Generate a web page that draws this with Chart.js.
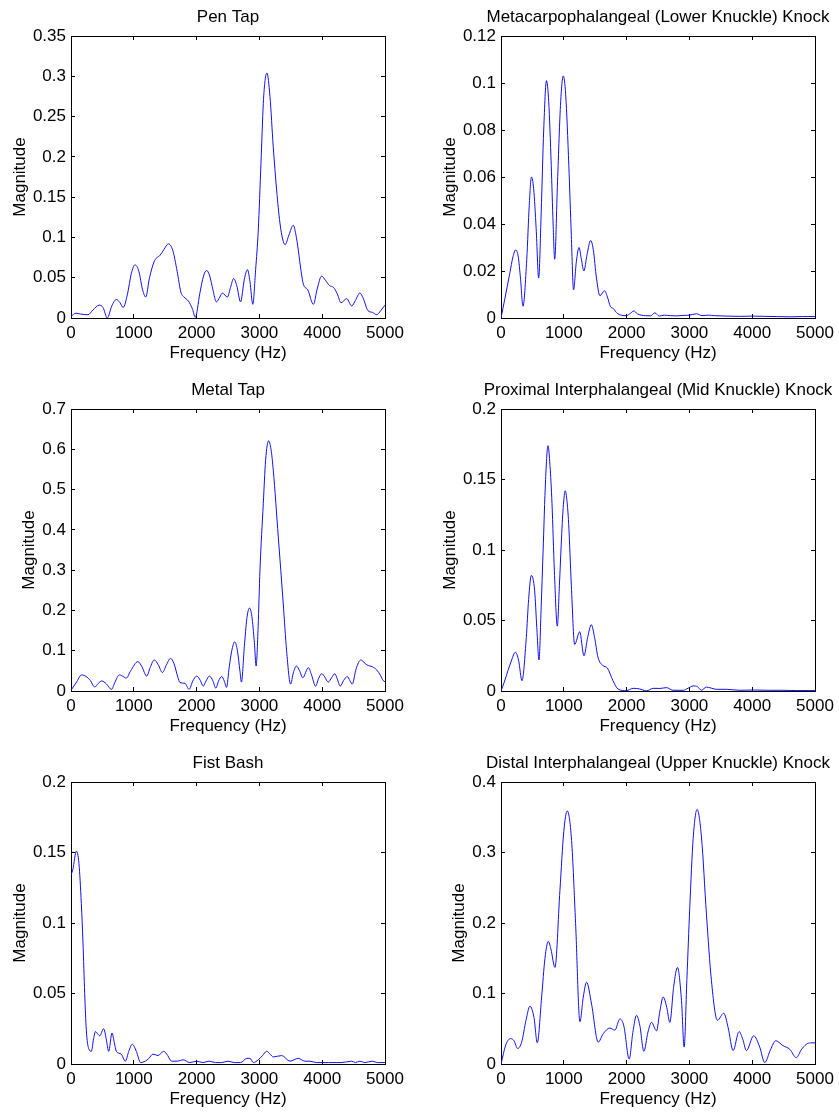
<!DOCTYPE html>
<html>
<head>
<meta charset="utf-8">
<title>Tap and knock spectra</title>
<script src="https://cdn.jsdelivr.net/npm/chart.js@4.4.1/dist/chart.umd.min.js"></script>
<style>
  html, body { margin: 0; padding: 0; background: #fff; }
  body { position: relative; width: 839px; height: 1113px; overflow: hidden; }
  canvas { position: absolute; }
</style>
</head>
<body>
<!-- each canvas is centred on its plot box so the title centres over the axes -->
<canvas id="penTap" width="456" height="370" style="left:0;top:0"></canvas>
<canvas id="lowerKnuckle" width="476" height="370" style="left:420px;top:0"></canvas>
<canvas id="metalTap" width="456" height="370" style="left:0;top:373px"></canvas>
<canvas id="midKnuckle" width="476" height="370" style="left:420px;top:373px"></canvas>
<canvas id="fistBash" width="456" height="370" style="left:0;top:746px"></canvas>
<canvas id="upperKnuckle" width="476" height="370" style="left:420px;top:746px"></canvas>

<script>
"use strict";

// ---- data ----
const freqTicks = [0, 1000, 2000, 3000, 4000, 5000];

// Pen Tap
const penTapHz = [0, 80, 150, 270, 350, 450, 510, 578, 650, 722, 780, 830, 900, 960, 1020, 1080, 1140, 1190, 1250, 1330, 1420, 1480, 1550, 1620, 1690, 1750, 1800, 1870, 1930, 1980, 2050, 2110, 2160, 2210, 2260, 2315, 2370, 2410, 2490, 2540, 2590, 2640, 2700, 2760, 2810, 2850, 2895, 2940, 2982, 3025, 3062, 3090, 3120, 3168, 3220, 3274, 3327, 3370, 3410, 3470, 3540, 3580, 3620, 3660, 3700, 3770, 3860, 3920, 3990, 4050, 4120, 4180, 4240, 4300, 4390, 4470, 4530, 4600, 4650, 4730, 4800, 4870, 4930, 5000];
const penTapMag = [0.002, 0.006, 0.005, 0.004, 0.01, 0.016, 0.013, 0.0, 0.015, 0.023, 0.019, 0.013, 0.03, 0.055, 0.066, 0.058, 0.035, 0.026, 0.05, 0.071, 0.078, 0.085, 0.092, 0.084, 0.058, 0.032, 0.026, 0.021, 0.012, 0.001, 0.03, 0.052, 0.059, 0.052, 0.035, 0.02, 0.026, 0.031, 0.026, 0.038, 0.049, 0.04, 0.02, 0.048, 0.06, 0.045, 0.017, 0.06, 0.109, 0.192, 0.266, 0.295, 0.304, 0.275, 0.213, 0.159, 0.118, 0.098, 0.091, 0.103, 0.115, 0.104, 0.084, 0.06, 0.042, 0.035, 0.017, 0.036, 0.052, 0.047, 0.04, 0.038, 0.03, 0.019, 0.024, 0.015, 0.022, 0.031, 0.025, 0.009, 0.007, 0.004, 0.009, 0.016];
const penTapTicks = [0, 0.05, 0.1, 0.15, 0.2, 0.25, 0.3, 0.35];

// Metacarpophalangeal (Lower Knuckle) Knock
const lowerHz = [0, 60, 140, 190, 235, 275, 310, 350, 410, 450, 485, 520, 560, 600, 640, 680, 724, 760, 800, 830, 855, 900, 950, 992, 1030, 1080, 1120, 1155, 1200, 1242, 1280, 1320, 1370, 1428, 1470, 1520, 1575, 1650, 1700, 1740, 1790, 1850, 1995, 2060, 2117, 2170, 2234, 2300, 2380, 2450, 2520, 2600, 2700, 2800, 2900, 3000, 3112, 3200, 3300, 3400, 3600, 3800, 4000, 4200, 4400, 4600, 4800, 5000];
const lowerMag = [0, 0.008, 0.019, 0.026, 0.029, 0.026, 0.017, 0.005, 0.025, 0.048, 0.06, 0.055, 0.038, 0.017, 0.045, 0.08, 0.101, 0.092, 0.065, 0.04, 0.025, 0.058, 0.092, 0.103, 0.095, 0.065, 0.035, 0.012, 0.024, 0.03, 0.025, 0.02, 0.027, 0.033, 0.029, 0.017, 0.0095, 0.0116, 0.0085, 0.005, 0.004, 0.002, 0.001, 0.002, 0.003, 0.0018, 0.0012, 0.001, 0.0009, 0.0022, 0.0008, 0.0012, 0.001, 0.0009, 0.0011, 0.0012, 0.0018, 0.001, 0.0012, 0.001, 0.0008, 0.0007, 0.0008, 0.0007, 0.0006, 0.0005, 0.0006, 0.0006];
const lowerTicks = [0, 0.02, 0.04, 0.06, 0.08, 0.1, 0.12];

// Metal Tap
const metalHz = [0, 80, 170, 240, 300, 380, 430, 490, 560, 645, 700, 770, 830, 880, 950, 1065, 1130, 1205, 1260, 1325, 1390, 1455, 1520, 1585, 1640, 1700, 1735, 1815, 1880, 1940, 2003, 2060, 2105, 2150, 2205, 2260, 2306, 2350, 2400, 2440, 2476, 2520, 2560, 2608, 2650, 2690, 2714, 2760, 2800, 2842, 2880, 2920, 2948, 2980, 3009, 3062, 3099, 3147, 3185, 3221, 3301, 3380, 3433, 3497, 3540, 3590, 3640, 3690, 3780, 3830, 3895, 3940, 3993, 4040, 4095, 4150, 4200, 4240, 4288, 4340, 4400, 4440, 4478, 4540, 4615, 4660, 4710, 4800, 4870, 4930, 4970, 5000];
const metalMag = [0.002, 0.02, 0.04, 0.036, 0.028, 0.01, 0.018, 0.025, 0.018, 0.004, 0.022, 0.04, 0.036, 0.032, 0.05, 0.073, 0.06, 0.037, 0.058, 0.077, 0.065, 0.046, 0.065, 0.081, 0.068, 0.035, 0.021, 0.019, 0.004, 0.025, 0.037, 0.026, 0.012, 0.025, 0.037, 0.025, 0.007, 0.025, 0.036, 0.025, 0.009, 0.06, 0.1, 0.122, 0.1, 0.05, 0.022, 0.11, 0.18, 0.206, 0.185, 0.12, 0.062, 0.16, 0.30, 0.465, 0.573, 0.621, 0.6, 0.548, 0.382, 0.216, 0.1, 0.017, 0.045, 0.062, 0.05, 0.033, 0.058, 0.04, 0.012, 0.03, 0.043, 0.035, 0.022, 0.033, 0.043, 0.03, 0.012, 0.026, 0.036, 0.026, 0.017, 0.055, 0.077, 0.072, 0.065, 0.06, 0.052, 0.038, 0.026, 0.023];
const metalTicks = [0, 0.1, 0.2, 0.3, 0.4, 0.5, 0.6, 0.7];

// Proximal Interphalangeal (Mid Knuckle) Knock
const midHz = [0, 50, 111, 170, 228, 281, 334, 403, 440, 483, 536, 570, 605, 640, 669, 710, 748, 780, 812, 850, 897, 930, 960, 990, 1024, 1050, 1077, 1120, 1173, 1253, 1321, 1380, 1438, 1490, 1544, 1624, 1692, 1783, 1863, 1995, 2105, 2200, 2317, 2423, 2530, 2635, 2741, 2900, 2980, 3059, 3130, 3192, 3271, 3350, 3430, 3589, 3801, 4014, 4279, 4491, 4700, 5000];
const midMag = [0, 0.006, 0.0145, 0.022, 0.0275, 0.0216, 0.0073, 0.038, 0.065, 0.082, 0.071, 0.045, 0.022, 0.06, 0.0975, 0.15, 0.174, 0.16, 0.133, 0.085, 0.046, 0.075, 0.105, 0.13, 0.142, 0.135, 0.119, 0.075, 0.033, 0.042, 0.025, 0.038, 0.047, 0.038, 0.024, 0.018, 0.0164, 0.0073, 0.0014, 0.0002, 0.0019, 0.0015, 0.0001, 0.0019, 0.0018, 0.0024, 0.0005, 0.0005, 0.002, 0.0036, 0.003, 0.0005, 0.0028, 0.002, 0.0012, 0.0012, 0.0005, 0.0007, 0.0005, 0.0005, 0.0003, 0.0003];
const midTicks = [0, 0.05, 0.1, 0.15, 0.2];

// Fist Bash
const fistHz = [0, 30, 85, 127, 164, 191, 218, 244, 281, 324, 360, 390, 430, 457, 520, 560, 600, 653, 690, 722, 800, 865, 920, 975, 1040, 1109, 1183, 1240, 1305, 1385, 1476, 1540, 1600, 1700, 1783, 1890, 2000, 2100, 2200, 2300, 2400, 2500, 2600, 2700, 2800, 2850, 2903, 2982, 3050, 3115, 3170, 3221, 3354, 3487, 3619, 3725, 3805, 3911, 4100, 4300, 4468, 4530, 4600, 4680, 4800, 4880, 5000];
const fistMag = [0.134, 0.138, 0.151, 0.142, 0.114, 0.086, 0.05, 0.024, 0.011, 0.009, 0.018, 0.023, 0.021, 0.02, 0.025, 0.018, 0.009, 0.022, 0.015, 0.009, 0.007, 0.002, 0.009, 0.014, 0.009, 0.001, 0.002, 0.004, 0.007, 0.006, 0.009, 0.006, 0.002, 0.002, 0.003, 0.001, 0.002, 0.001, 0.002, 0.001, 0.001, 0.002, 0.001, 0.001, 0.004, 0.004, 0.001, 0.003, 0.006, 0.009, 0.007, 0.005, 0.006, 0.002, 0.004, 0.002, 0.002, 0.001, 0.001, 0.001, 0.002, 0.001, 0.002, 0.001, 0.002, 0.001, 0.001];
const fistTicks = [0, 0.05, 0.1, 0.15, 0.2];

// Distal Interphalangeal (Upper Knuckle) Knock
const upperHz = [0, 80, 154, 207, 265, 329, 398, 461, 525, 578, 647, 700, 753, 795, 859, 938, 1000, 1055, 1124, 1188, 1257, 1310, 1363, 1442, 1548, 1628, 1734, 1813, 1893, 1956, 2041, 2100, 2158, 2210, 2275, 2340, 2397, 2476, 2530, 2582, 2640, 2688, 2750, 2810, 2874, 2916, 2960, 3006, 3060, 3123, 3192, 3271, 3351, 3446, 3547, 3616, 3696, 3791, 3850, 3908, 4024, 4120, 4199, 4290, 4374, 4491, 4597, 4703, 4780, 4862, 4930, 5000];
const upperMag = [0, 0.028, 0.036, 0.033, 0.022, 0.031, 0.062, 0.082, 0.066, 0.03, 0.095, 0.15, 0.174, 0.163, 0.137, 0.246, 0.33, 0.359, 0.317, 0.199, 0.06, 0.095, 0.116, 0.085, 0.031, 0.043, 0.051, 0.048, 0.064, 0.054, 0.007, 0.045, 0.069, 0.055, 0.018, 0.045, 0.059, 0.047, 0.075, 0.095, 0.08, 0.059, 0.11, 0.137, 0.09, 0.024, 0.12, 0.222, 0.32, 0.361, 0.322, 0.213, 0.118, 0.062, 0.072, 0.052, 0.019, 0.046, 0.035, 0.019, 0.04, 0.024, 0.002, 0.02, 0.033, 0.026, 0.021, 0.009, 0.02, 0.028, 0.03, 0.03];
const upperTicks = [0, 0.1, 0.2, 0.3, 0.4];

const panels = [
  { id: "penTap", title: "Pen Tap", hz: penTapHz, mag: penTapMag, yTicks: penTapTicks },
  { id: "lowerKnuckle", title: "Metacarpophalangeal (Lower Knuckle) Knock", hz: lowerHz, mag: lowerMag, yTicks: lowerTicks },
  { id: "metalTap", title: "Metal Tap", hz: metalHz, mag: metalMag, yTicks: metalTicks },
  { id: "midKnuckle", title: "Proximal Interphalangeal (Mid Knuckle) Knock", hz: midHz, mag: midMag, yTicks: midTicks },
  { id: "fistBash", title: "Fist Bash", hz: fistHz, mag: fistMag, yTicks: fistTicks },
  { id: "upperKnuckle", title: "Distal Interphalangeal (Upper Knuckle) Knock", hz: upperHz, mag: upperMag, yTicks: upperTicks }
];

// ---- look ----
const FONT = '"Liberation Sans", Arial, Helvetica, sans-serif';
const FONT_SIZE = 17;
Chart.defaults.font.family = FONT;
Chart.defaults.font.size = FONT_SIZE;
Chart.defaults.color = "#000";

// used to place "Magnitude" at a fixed gap from the widest tick label, like matlab does
const measureCtx = document.createElement("canvas").getContext("2d");
measureCtx.font = FONT_SIZE + "px " + FONT;

function setTicks(values) {
  return function (scale) {
    scale.ticks = values.map(v => ({ value: v }));
  };
}

function drawPanel(p) {
  const canvas = document.getElementById(p.id);
  // canvas is symmetric round the plot box: same margin left and right
  const side = (canvas.width - 314) / 2;
  const widest = Math.max(...p.yTicks.map(v => measureCtx.measureText(String(v)).width));
  const labelCentre = side - (18 + widest);
  const yMax = p.yTicks[p.yTicks.length - 1];

  // inward tick marks only, no grid on the plot
  const boxGrid = { drawOnChartArea: false, drawTicks: true, tickLength: -4, color: "#000" };
  const boxBorder = { display: true, color: "#000", width: 1 };

  new Chart(canvas, {
    type: "line",
    data: {
      datasets: [{
        data: p.hz.map((f, i) => ({ x: f, y: p.mag[i] })),
        borderColor: "#1010f0",
        borderWidth: 1,
        pointRadius: 0,
        fill: false,
        cubicInterpolationMode: "monotone"
      }]
    },
    options: {
      responsive: false,
      animation: false,
      devicePixelRatio: 1,
      layout: { padding: 0 },
      plugins: {
        legend: { display: false },
        tooltip: { enabled: false },
        title: {
          display: true,
          text: p.title,
          color: "#000",
          font: { size: FONT_SIZE, weight: "normal" },
          padding: { top: 7, bottom: 8.6 }
        }
      },
      scales: {
        x: {
          type: "linear", position: "bottom", min: 0, max: 5000,
          afterBuildTicks: setTicks(freqTicks),
          ticks: { padding: 9, maxRotation: 0, autoSkip: false, callback: v => String(v) },
          grid: boxGrid, border: boxBorder,
          title: { display: true, text: "Frequency (Hz)", padding: { top: 0, bottom: 6 } },
          afterFit: s => { s.height = 52; }
        },
        x2: {
          type: "linear", position: "top", min: 0, max: 5000,
          afterBuildTicks: setTicks(freqTicks),
          ticks: { display: false },
          grid: boxGrid, border: boxBorder,
          afterFit: s => { s.height = 0; }
        },
        y: {
          type: "linear", position: "left", min: 0, max: yMax,
          afterBuildTicks: setTicks(p.yTicks),
          ticks: { padding: 9, autoSkip: false, callback: v => String(v) },
          grid: boxGrid, border: boxBorder,
          title: { display: true, text: "Magnitude", padding: { top: labelCentre - FONT_SIZE * 0.6, bottom: 0 } },
          afterFit: s => { s.width = side; }
        },
        y2: {
          type: "linear", position: "right", min: 0, max: yMax,
          afterBuildTicks: setTicks(p.yTicks),
          ticks: { display: false },
          grid: boxGrid, border: boxBorder,
          afterFit: s => { s.width = side; }
        }
      }
    }
  });
}

panels.forEach(drawPanel);
</script>
</body>
</html>
